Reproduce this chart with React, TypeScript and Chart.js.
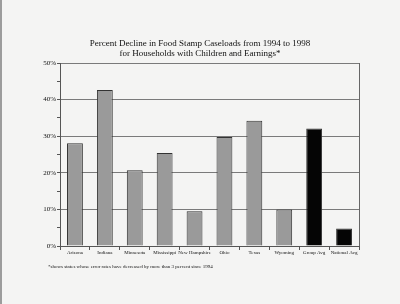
import React, { useEffect, useRef } from "react";
import { Chart, registerables } from "chart.js";

Chart.register(...registerables);

const categories = [
  "Arizona",
  "Indiana",
  "Minnesota",
  "Mississippi",
  "New Hampshire",
  "Ohio",
  "Texas",
  "Wyoming",
  "Group Avg",
  "National Avg",
];
const declinePct = [28.1, 42.6, 20.7, 25.4, 9.5, 29.8, 34.2, 10.0, 32.1, 4.8];
const barColors = ["#9a9a9a", "#9a9a9a", "#9a9a9a", "#9a9a9a", "#9a9a9a", "#9a9a9a", "#9a9a9a", "#9a9a9a", "#050505", "#050505"];
const titleLines = [
  "Percent Decline in Food Stamp Caseloads from 1994 to 1998",
  "for Households with Children and Earnings*",
];
const footnote = "*shows states whose error rates have decreased by more than 3 percent since 1994";
const yTickStep = 5;
const yMax = 50;

const SERIF = "'Liberation Serif', 'DejaVu Serif', serif";

export default function App() {
  const ref = useRef<HTMLCanvasElement | null>(null);

  useEffect(() => {
    document.body.style.margin = "0";
    const canvas = ref.current;
    if (!canvas) return;

    const decor = {
      id: "decor",
      beforeDraw(chart: any) {
        const c = chart.ctx;
        c.save();
        c.fillStyle = "#f4f4f3";
        c.fillRect(0, 0, chart.width, chart.height);
        c.fillStyle = "#9c9c9c";
        c.fillRect(0, 0, 2, chart.height);
        c.restore();
      },
      afterDraw(chart: any) {
        const c = chart.ctx;
        const a = chart.chartArea;
        c.save();
        c.fillStyle = "#111";
        c.textAlign = "center";
        c.textBaseline = "middle";
        c.font = `9px ${SERIF}`;
        c.fillText(titleLines[0], 200, 43.5);
        c.fillText(titleLines[1], 200, 53.5);
        c.textAlign = "left";
        c.font = `5px ${SERIF}`;
        c.fillText(footnote, 48, 266.5);
        // right frame border
        c.strokeStyle = "#666";
        c.lineWidth = 1;
        c.beginPath();
        c.moveTo(Math.round(a.right) + 0.5, a.top);
        c.lineTo(Math.round(a.right) + 0.5, a.bottom);
        c.stroke();
        c.restore();
      },
    };

    const chart = new Chart(canvas, {
      type: "bar",
      data: {
        labels: categories,
        datasets: [
          {
            data: declinePct,
            backgroundColor: barColors,
            borderColor: "#333",
            borderWidth: 1,
            categoryPercentage: 1,
            barPercentage: 0.53,
          },
        ],
      },
      options: {
        animation: false,
        responsive: false,
        devicePixelRatio: 1,
        layout: { padding: { top: 63, left: 0, right: 41, bottom: 0 } },
        plugins: {
          legend: { display: false },
          title: { display: false },
          tooltip: { enabled: false },
        },
        scales: {
          x: {
            offset: true,
            grid: {
              offset: true,
              drawOnChartArea: false,
              drawTicks: true,
              tickLength: 4,
              tickColor: "#555",
            },
            border: { display: true, color: "#555" },
            ticks: {
              padding: 0,
              color: "#111",
              font: { family: SERIF, size: 5 },
              maxRotation: 0,
              autoSkip: false,
            },
            afterFit(axis: any) {
              axis.height = 58;
            },
          },
          y: {
            min: 0,
            max: yMax,
            ticks: {
              stepSize: yTickStep,
              padding: 1,
              color: "#111",
              font: { family: SERIF, size: 7 },
              callback: (v: any) => (Number(v) % 10 === 0 ? `${v}%` : ""),
            },
            grid: {
              color: (ctx: any) =>
                ctx.tick && ctx.tick.value % 10 === 0 ? "#7a7a7a" : "rgba(0,0,0,0)",
              tickColor: "#555",
              tickLength: 3,
              lineWidth: 1,
            },
            border: { display: true, color: "#555" },
            afterFit(axis: any) {
              axis.width = 60;
            },
          },
        },
      },
      plugins: [decor],
    });

    return () => chart.destroy();
  }, []);

  return (
    <div style={{ position: "fixed", left: 0, top: 0, width: 400, height: 304 }}>
      <canvas ref={ref} width={400} height={304} style={{ display: "block" }} />
    </div>
  );
}
